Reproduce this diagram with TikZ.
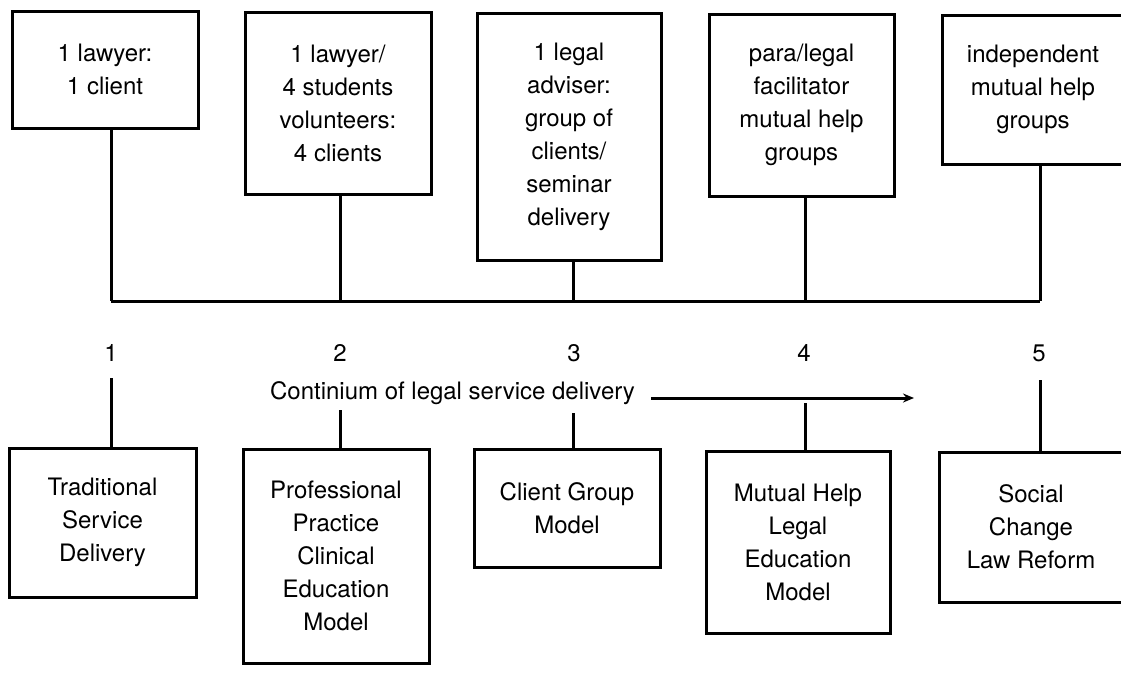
\documentclass[tikz,border=0pt]{standalone}
\usepackage{fontspec}
\setmainfont{TeX Gyre Heros}
\usetikzlibrary{arrows.meta}
\tikzset{
  boxnode/.style={draw, line width=3pt, align=center, inner sep=0pt, font=\fontsize{24}{33}\selectfont},
  textnode/.style={font=\fontsize{24}{33}\selectfont, inner sep=0pt},
  link/.style={line width=3pt},
}
\begin{document}
\begin{tikzpicture}[x=1pt,y=-1pt]
\clip (0,0) rectangle (1121,675);
\fill[white] (0,0) rectangle (1121,675);
% top boxes
\node[boxnode, minimum width=186pt, minimum height=117pt] (T1) at (105,69.5) {1 lawyer:\\1 client};
\node[boxnode, minimum width=186pt, minimum height=182pt] (T2) at (338,103) {1 lawyer/\\4 students\\volunteers:\\4 clients};
\node[boxnode, minimum width=184pt, minimum height=247pt] (T3) at (569,136.5) {1 legal\\adviser:\\group of\\clients/\\seminar\\delivery};
\node[boxnode, minimum width=185pt, minimum height=182pt] (T4) at (801.5,105) {para/legal\\facilitator\\mutual help\\groups};
\node[boxnode, minimum width=182pt, minimum height=149pt] (T5) at (1033,89.5) {independent\\mutual help\\groups};
% bus
\coordinate (u1) at (111,301);
\coordinate (u2) at (340,301);
\coordinate (u3) at (573,301);
\coordinate (u4) at (805,301);
\coordinate (u5) at (1040,301);
\draw[link] (u1) -- (u5);
\draw[link] (T1.south -| u1) -- (u1);
\draw[link] (T2.south -| u2) -- (u2);
\draw[link] (T3.south -| u3) -- (u3);
\draw[link] (T4.south -| u4) -- (u4);
\draw[link] (T5.south -| u5) -- (u5);
% numbers
\node[textnode] (n1) at (111,353) {1};
\node[textnode] (n2) at (340,353) {2};
\node[textnode] (n3) at (574,353) {3};
\node[textnode] (n4) at (804,353) {4};
\node[textnode] (n5) at (1039,353) {5};
% continuum
\node[textnode] (cont) at (452.5,393) {Continium of legal service delivery};
\coordinate (a0) at (651,398);
\coordinate (a1) at (914,398);
\draw[link, -{Stealth[length=11pt,width=9pt]}] (a0) -- (a1);
% bottom boxes
\node[boxnode, minimum width=187pt, minimum height=149pt] (B1) at (102.5,522.5) {Traditional\\Service\\Delivery};
\node[boxnode, minimum width=186pt, minimum height=214pt] (B2) at (336,556) {Professional\\Practice\\Clinical\\Education\\Model};
\node[boxnode, minimum width=186pt, minimum height=118pt] (B3) at (567,508) {Client Group\\Model};
\node[boxnode, minimum width=184pt, minimum height=182pt] (B4) at (798,542) {Mutual Help\\Legal\\Education\\Model};
\node[boxnode, minimum width=184pt, minimum height=150pt] (B5) at (1031,527) {Social\\Change\\Law Reform};
% lower links
\coordinate (d1) at (111,378);
\coordinate (d2) at (340,410);
\coordinate (d3) at (573,413);
\coordinate (d4) at (805,403);
\coordinate (d5) at (1040,380);
\draw[link] (d1) -- (d1 |- B1.north);
\draw[link] (d2) -- (d2 |- B2.north);
\draw[link] (d3) -- (d3 |- B3.north);
\draw[link] (d4) -- (d4 |- B4.north);
\draw[link] (d5) -- (d5 |- B5.north);
\end{tikzpicture}
\end{document}
